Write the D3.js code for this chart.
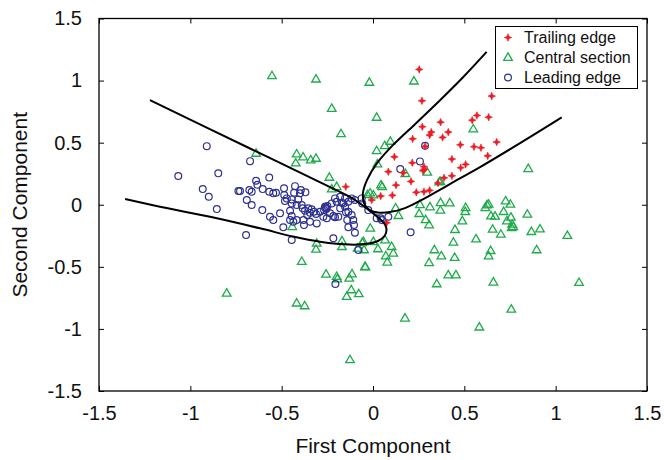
<!DOCTYPE html>
<html><head><meta charset="utf-8">
<script src="https://cdn.jsdelivr.net/npm/d3@7"></script>
<style>html,body{margin:0;padding:0;background:#fff;}svg{display:block;font-family:"Liberation Sans",Arial,Helvetica,sans-serif;}</style>
</head><body>
<svg id="chart" width="664" height="460"></svg>
<script>
const xTicks = [-1.5, -1, -0.5, 0, 0.5, 1, 1.5];
const yTicks = [-1.5, -1, -0.5, 0, 0.5, 1, 1.5];
const seriesNames = ["Trailing edge", "Central section", "Leading edge"];

const trailing = [[0.253,1.09],[0.268,0.837],[0.65,0.875],[0.27,0.628],[0.37,0.665],[0.569,0.719],[0.633,0.705],[0.543,0.681],[0.217,0.531],[0.31,0.561],[0.319,0.585],[0.412,0.585],[0.381,0.542],[0.478,0.483],[0.553,0.467],[0.591,0.459],[0.677,0.505],[0.628,0.394],[0.117,0.386],[0.432,0.368],[0.215,0.338],[0.279,0.306],[0.274,0.274],[0.507,0.325],[0.48,0.298],[0.084,0.266],[0.208,0.188],[0.432,0.233],[0.389,0.217],[0.126,0.158],[0.237,0.1],[0.279,0.105],[0.31,0.116],[0.106,0.076],[0.042,0.07],[-0.149,0.145],[0.356,0.175],[-0.007,0.038],[0.075,-0.145],[0.285,0.47],[0.166,0.257],[0.28,0.285]];

const central = [[-0.553,1.038],[-0.312,1.011],[-0.226,0.775],[-0.175,0.571],[-0.64,0.413],[-0.418,0.408],[-0.383,0.384],[-0.341,0.36],[-0.312,0.373],[-0.423,0.335],[-0.239,0.22],[-0.199,0.145],[-0.226,0.126],[-0.02,0.985],[0.224,0.995],[0.02,0.703],[0.095,0.51],[0.064,0.475],[0.02,0.434],[0.024,0.327],[0.549,0.609],[0.85,0.29],[0.177,0.25],[0.297,0.261],[0.363,0.183],[0.368,0.186],[0.044,0.158],[0.05,0.145],[-0.016,0.094],[-0.03,0.08],[0.002,0.078],[0.124,-0.027],[0.257,0],[0.312,-0.018],[0.37,0.016],[0.42,0.014],[0.507,-0.024],[0.624,-0.002],[0.633,0.003],[0.726,0.03],[0.752,0.003],[0.369,-0.045],[0.253,-0.072],[0.139,-0.088],[0.288,-0.121],[0.307,-0.163],[0.505,-0.056],[0.489,-0.131],[0.449,-0.201],[0.564,-0.276],[0.44,-0.303],[0.336,-0.364],[0.374,-0.413],[0.447,-0.426],[0.307,-0.467],[0.412,-0.566],[0.454,-0.566],[0.349,-0.638],[0.615,-0.024],[0.646,-0.091],[0.668,-0.093],[0.715,-0.056],[0.755,-0.101],[0.733,-0.131],[0.762,-0.158],[0.768,-0.177],[0.759,-0.185],[0.845,-0.077],[0.655,-0.198],[0.7,-0.238],[0.867,-0.217],[0.914,-0.196],[1.064,-0.249],[0.896,-0.364],[0.644,-0.37],[0.633,-0.413],[0.659,-0.624],[1.128,-0.627],[-0.015,-0.19],[-0.053,-0.298],[0.002,-0.298],[0.066,-0.284],[0.102,-0.338],[0.111,-0.391],[0.07,-0.413],[0.027,-0.356],[0.078,-0.463],[-0.044,-0.499],[-0.049,-0.364],[-0.801,-0.713],[-0.39,-0.458],[-0.418,-0.793],[-0.374,-0.815],[-0.257,-0.56],[-0.199,-0.579],[-0.195,-0.598],[-0.115,-0.558],[-0.13,-0.592],[-0.119,-0.686],[-0.144,-0.74],[-0.078,-0.718],[-0.042,-0.501],[-0.308,-0.311],[-0.312,-0.359],[-0.17,-0.292],[-0.17,-0.338],[-0.059,-0.306],[-0.084,-0.351],[0.175,-0.914],[-0.126,-1.249],[0.757,-0.842],[0.582,-0.986],[-0.442,-0.177]];

const leading = [[-0.91,0.472],[-1.066,0.231],[-0.847,0.253],[-0.932,0.126],[-0.899,0.064],[-0.855,-0.035],[-0.737,0.11],[-0.728,0.11],[-0.673,0.351],[-0.568,0.22],[-0.64,0.193],[-0.633,0.161],[-0.677,0.118],[-0.664,0.105],[-0.604,0.126],[-0.568,0.105],[-0.546,0.092],[-0.531,0.097],[-0.487,0.132],[-0.427,0.15],[-0.395,0.118],[-0.37,0.1],[-0.432,0.097],[-0.4,0.092],[-0.691,0.038],[-0.664,-0.002],[-0.606,-0.043],[-0.486,0.078],[-0.472,0.051],[-0.482,0.03],[-0.445,0.043],[-0.409,0.043],[-0.445,0.011],[-0.418,-0.002],[-0.39,-0.002],[-0.509,-0.069],[-0.454,-0.048],[-0.445,-0.091],[-0.564,-0.097],[-0.546,-0.123],[-0.491,-0.182],[-0.454,-0.123],[-0.436,-0.137],[-0.418,-0.123],[-0.385,-0.029],[-0.372,-0.048],[-0.354,-0.029],[-0.345,-0.064],[-0.36,-0.083],[-0.336,-0.037],[-0.323,-0.056],[-0.312,-0.075],[-0.381,-0.123],[-0.345,-0.137],[-0.308,-0.15],[-0.378,-0.163],[-0.263,-0.016],[-0.257,-0.029],[-0.25,-0.01],[-0.268,-0.043],[-0.26,-0.02],[-0.255,-0.035],[-0.29,-0.056],[-0.272,-0.097],[-0.253,-0.109],[-0.235,-0.069],[-0.217,-0.091],[-0.226,0.011],[-0.199,0.024],[-0.171,0.016],[-0.135,0.024],[-0.153,-0.016],[-0.18,0.064],[-0.153,0.051],[-0.117,0.051],[-0.099,0.038],[-0.208,0.051],[-0.135,-0.056],[-0.117,-0.083],[-0.108,-0.123],[-0.141,-0.123],[-0.135,-0.182],[-0.104,-0.163],[-0.099,-0.225],[-0.208,-0.101],[-0.19,-0.097],[-0.062,0.051],[-0.026,-0.043],[0.02,-0.109],[-0.445,-0.284],[-0.695,-0.244],[-0.217,-0.27],[-0.206,-0.638],[-0.08,-0.364],[0.206,-0.222],[-0.059,0.011],[0.042,-0.109],[0.084,-0.097],[-0.162,0.011],[-0.18,-0.029],[-0.148,-0.061],[0.048,-0.123],[0.285,0.475],[0.257,0.349],[0.149,0.287]];

const boundaryLeading = [[-1.221,0.842],[-0.673,0.453],[-0.235,0.142],[-0.115,0.054],[-0.044,-0.019],[0.022,-0.095],[0.060,-0.147],[0.074,-0.195],[0.063,-0.252],[0.027,-0.292],[-0.033,-0.315],[-0.126,-0.321],[-0.290,-0.298],[-0.438,-0.256],[-0.618,-0.190],[-0.892,-0.097],[-1.166,-0.016],[-1.357,0.046]];
const boundaryTrailing = [[0.622,1.231],[0.493,1.027],[0.367,0.842],[0.230,0.649],[0.109,0.480],[0.022,0.335],[-0.033,0.199],[-0.055,0.094],[-0.049,0.014],[-0.022,-0.039],[0.027,-0.063],[0.093,-0.059],[0.175,-0.027],[0.285,0.054],[0.421,0.167],[0.586,0.303],[0.805,0.496],[1.033,0.703]];

const colors = {trail:"#ec1c24", central:"#1fab4b", lead:"#2e3192"};

const svg = d3.select("#chart");
const L = 99, R = 647, T = 18.5, B = 391;
const x = d3.scaleLinear().domain([-1.5,1.5]).range([L,R]);
const y = d3.scaleLinear().domain([-1.5,1.5]).range([B,T]);
const fmt = d => String(d);

const gx = svg.append("g").attr("transform",`translate(0,${B})`)
  .call(d3.axisBottom(x).tickValues(xTicks).tickFormat(fmt).tickSizeInner(-5).tickSizeOuter(0).tickPadding(15));
const gy = svg.append("g").attr("transform",`translate(${L},0)`)
  .call(d3.axisLeft(y).tickValues(yTicks).tickFormat(fmt).tickSizeInner(-5).tickSizeOuter(0).tickPadding(17));
const gt = svg.append("g").attr("transform",`translate(0,${T})`)
  .call(d3.axisTop(x).tickValues(xTicks).tickFormat("").tickSizeInner(-5).tickSizeOuter(0));
const gr = svg.append("g").attr("transform",`translate(${R},0)`)
  .call(d3.axisRight(y).tickValues(yTicks).tickFormat("").tickSizeInner(-5).tickSizeOuter(0));
[gx,gy,gt,gr].forEach(g=>{
  g.select(".domain").remove();
  g.selectAll("line").attr("stroke","#000").attr("stroke-width",1);
  g.selectAll("text").attr("font-size",20).attr("font-family","Liberation Sans, Arial, sans-serif").attr("fill","#111");
});
svg.append("rect").attr("x",L).attr("y",T).attr("width",R-L).attr("height",B-T)
  .attr("fill","none").attr("stroke","#000").attr("stroke-width",1.3);

const plot = svg.append("g");
const line = d3.line().x(d=>x(d[0])).y(d=>y(d[1])).curve(d3.curveCatmullRom.alpha(0.5));

const tri = "M0,-4.6L4.3,2.8L-4.3,2.8Z";
plot.append("g").selectAll("path").data(central).join("path")
  .attr("d",tri).attr("transform",d=>`translate(${x(d[0])},${y(d[1])})`)
  .attr("fill","none").attr("stroke",colors.central).attr("stroke-width",1.3);
plot.append("g").selectAll("circle").data(leading).join("circle")
  .attr("cx",d=>x(d[0])).attr("cy",d=>y(d[1])).attr("r",3.4)
  .attr("fill","none").attr("stroke",colors.lead).attr("stroke-width",1.2);
const star = "M0,-3.8L1.1,-1.1L3.8,0L1.1,1.1L0,3.8L-1.1,1.1L-3.8,0L-1.1,-1.1Z";
plot.append("g").selectAll("path").data(trailing).join("path")
  .attr("d",star).attr("transform",d=>`translate(${x(d[0])},${y(d[1])})`)
  .attr("fill",colors.trail).attr("stroke",colors.trail).attr("stroke-width",0.6);

[boundaryLeading, boundaryTrailing].forEach(b=>{
  plot.append("path").datum(b).attr("d",line).attr("fill","none").attr("stroke","#000").attr("stroke-width",2);
});

svg.append("text").attr("x",(L+R)/2).attr("y",453).attr("text-anchor","middle")
  .attr("font-size",21).attr("fill","#111").text("First Component");
svg.append("text").attr("transform",`translate(27,${(T+B)/2}) rotate(-90)`).attr("text-anchor","middle")
  .attr("font-size",21).attr("fill","#111").text("Second Component");

const lg = svg.append("g");
lg.append("rect").attr("x",495.5).attr("y",26.5).attr("width",142).attr("height",62)
  .attr("fill","#fff").attr("stroke","#000").attr("stroke-width",1);
const rows = [37.5, 57.5, 77.5];
lg.append("path").attr("d",star).attr("transform",`translate(508,${rows[0]})`).attr("fill",colors.trail).attr("stroke",colors.trail).attr("stroke-width",0.6);
lg.append("path").attr("d",tri).attr("transform",`translate(508,${rows[1]})`).attr("fill","none").attr("stroke",colors.central).attr("stroke-width",1.3);
lg.append("circle").attr("cx",508).attr("cy",rows[2]).attr("r",3.4).attr("fill","none").attr("stroke",colors.lead).attr("stroke-width",1.2);
lg.selectAll("text.lt").data(seriesNames).join("text").attr("class","lt")
  .attr("x",524).attr("y",(d,i)=>rows[i]+5.5).attr("font-size",16).attr("fill","#111").text(d=>d);
</script>
</body></html>
